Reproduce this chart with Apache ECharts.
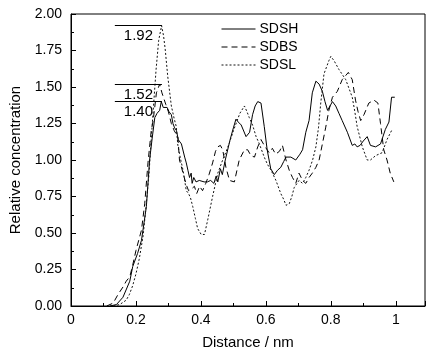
<!DOCTYPE html>
<html><head><meta charset="utf-8">
<script src="https://cdn.jsdelivr.net/npm/echarts@6/dist/echarts.min.js"></script>
<style>html,body{margin:0;padding:0;background:#fff}#c{width:435px;height:359px}</style>
</head><body><div id="c"></div>
<script>
// ---- data (distance in nm, relative concentration) ----
const sdshX=[0.12,0.14,0.16,0.181,0.19,0.205,0.217,0.232,0.242,0.25,0.258,0.265,0.273,0.278,0.284,0.29,0.296,0.302,0.309,0.314,0.319,0.325,0.33,0.34,0.35,0.355,0.36,0.365,0.37,0.373,0.378,0.385,0.395,0.40,0.41,0.42,0.43,0.44,0.447,0.452,0.46,0.466,0.475,0.49,0.50,0.508,0.515,0.524,0.539,0.55,0.559,0.567,0.575,0.585,0.595,0.604,0.615,0.626,0.636,0.646,0.655,0.662,0.677,0.692,0.705,0.713,0.723,0.733,0.743,0.754,0.764,0.774,0.782,0.79,0.805,0.815,0.825,0.835,0.851,0.866,0.874,0.881,0.89,0.90,0.912,0.922,0.938,0.953,0.968,0.979,0.987,0.997];
const sdshY=[0,0.01,0.06,0.17,0.27,0.36,0.45,0.68,1.00,1.15,1.29,1.32,1.34,1.40,1.36,1.37,1.36,1.33,1.31,1.25,1.22,1.20,1.14,1.11,1.02,0.98,0.93,0.88,0.91,0.84,0.88,0.85,0.86,0.87,0.85,0.85,0.86,0.84,0.89,0.85,0.94,0.90,1.00,1.14,1.22,1.28,1.26,1.24,1.16,1.19,1.31,1.37,1.40,1.39,1.23,1.07,0.94,0.90,0.93,0.95,0.99,1.02,1.02,1.00,1.04,1.07,1.19,1.27,1.46,1.54,1.52,1.47,1.40,1.34,1.40,1.37,1.32,1.27,1.19,1.10,1.11,1.09,1.10,1.13,1.16,1.10,1.09,1.11,1.21,1.26,1.43,1.43];

const sdbsX=[0.11,0.13,0.145,0.16,0.17,0.181,0.19,0.20,0.217,0.227,0.237,0.247,0.253,0.263,0.273,0.28,0.286,0.292,0.30,0.309,0.318,0.329,0.334,0.345,0.355,0.362,0.37,0.38,0.387,0.396,0.405,0.415,0.425,0.436,0.445,0.452,0.46,0.467,0.477,0.488,0.503,0.518,0.534,0.544,0.554,0.565,0.575,0.585,0.595,0.61,0.62,0.63,0.642,0.651,0.662,0.672,0.682,0.692,0.702,0.713,0.723,0.733,0.743,0.754,0.764,0.774,0.784,0.794,0.805,0.82,0.835,0.854,0.866,0.876,0.884,0.892,0.902,0.917,0.933,0.945,0.953,0.963,0.973,0.983,0.994];
const sdbsY=[0,0.02,0.08,0.13,0.17,0.20,0.28,0.38,0.52,0.70,0.98,1.20,1.27,1.46,1.52,1.46,1.42,1.38,1.33,1.25,1.20,1.16,1.00,0.91,0.83,0.79,0.80,0.82,0.77,0.82,0.79,0.84,0.90,0.98,1.06,1.09,1.10,1.07,0.95,0.86,0.85,1.00,1.07,1.07,1.03,1.02,1.09,1.14,1.10,1.05,1.08,1.04,1.06,1.10,1.00,0.93,0.88,0.84,0.91,0.86,0.84,0.88,0.91,0.95,1.00,1.11,1.22,1.34,1.43,1.47,1.55,1.60,1.55,1.41,1.33,1.27,1.31,1.39,1.41,1.39,1.25,1.07,1.00,0.91,0.85];

const sdslX=[0.13,0.15,0.17,0.18,0.19,0.20,0.21,0.222,0.232,0.24,0.247,0.255,0.262,0.27,0.279,0.285,0.29,0.298,0.309,0.318,0.324,0.329,0.338,0.345,0.355,0.362,0.368,0.375,0.383,0.39,0.401,0.411,0.421,0.436,0.452,0.467,0.478,0.488,0.50,0.51,0.52,0.534,0.542,0.549,0.559,0.57,0.58,0.595,0.605,0.616,0.631,0.646,0.655,0.662,0.672,0.68,0.687,0.702,0.713,0.723,0.733,0.744,0.754,0.762,0.769,0.779,0.794,0.80,0.81,0.825,0.846,0.866,0.874,0.881,0.897,0.912,0.922,0.938,0.958,0.973,0.989];
const sdslY=[0,0.01,0.04,0.08,0.14,0.22,0.32,0.48,0.70,0.90,1.14,1.40,1.62,1.82,1.92,1.85,1.76,1.57,1.37,1.28,1.23,1.10,1.00,0.93,0.79,0.77,0.74,0.68,0.60,0.53,0.49,0.49,0.59,0.75,0.91,1.00,1.06,1.12,1.20,1.26,1.32,1.37,1.33,1.29,1.24,1.16,1.11,1.02,0.97,0.93,0.86,0.77,0.73,0.69,0.70,0.75,0.81,0.86,0.84,0.88,0.93,1.00,1.09,1.22,1.39,1.59,1.68,1.71,1.68,1.62,1.55,1.43,1.33,1.23,1.09,1.00,1.00,1.03,1.05,1.14,1.21];

const seriesNames=['SDSH','SDBS','SDSL'];
const peakValues=[1.92,1.52,1.40];
const peakLineX=[0.135,0.28];
const xTickInterval=0.2, yTickInterval=0.25;

const pairs=(xs,ys)=>xs.map((x,i)=>[x,ys[i]]);
const FONT='"Liberation Sans", Arial, sans-serif';

const chart=echarts.init(document.getElementById('c'),null,{renderer:'canvas'});
chart.setOption({
  animation:false,
  backgroundColor:'#fff',
  grid:{left:71,right:10,top:14,bottom:53,show:true,borderColor:'#000',borderWidth:1,backgroundColor:'transparent'},
  legend:{
    orient:'vertical',left:216,top:17,itemWidth:34,itemHeight:12,itemGap:4,
    itemStyle:{opacity:0},
    lineStyle:{width:1},
    textStyle:{fontFamily:FONT,fontSize:14,color:'#000',padding:[0,0,0,-1]},
    data:seriesNames
  },
  xAxis:{
    type:'value',min:0,max:1.09,interval:xTickInterval,
    name:'Distance / nm',nameLocation:'middle',nameGap:29,
    nameTextStyle:{fontFamily:FONT,fontSize:15,color:'#000'},
    axisLine:{onZero:false,lineStyle:{color:'#000',width:1}},
    axisTick:{inside:true,length:5,lineStyle:{color:'#000'}},
    minorTick:{show:true,splitNumber:2,length:3,lineStyle:{color:'#000'}},
    axisLabel:{fontFamily:FONT,fontSize:14,color:'#000',margin:7,showMaxLabel:false},
    splitLine:{show:false}
  },
  yAxis:{
    type:'value',min:0,max:2,interval:yTickInterval,
    name:'Relative concentration',nameLocation:'middle',nameGap:46,
    nameTextStyle:{fontFamily:FONT,fontSize:15,color:'#000'},
    axisLine:{show:true,lineStyle:{color:'#000',width:1}},
    axisTick:{inside:true,length:5,lineStyle:{color:'#000'}},
    minorTick:{show:true,splitNumber:2,length:3,lineStyle:{color:'#000'}},
    axisLabel:{fontFamily:FONT,fontSize:14,color:'#000',margin:9,formatter:v=>v.toFixed(2)},
    splitLine:{show:false}
  },
  series:[
    {name:'SDSH',type:'line',data:pairs(sdshX,sdshY),symbol:'none',
     lineStyle:{color:'#000',width:1,type:'solid'},itemStyle:{color:'#000'},
     markLine:{silent:true,symbol:['none','none'],
       lineStyle:{color:'#000',width:1,type:'solid'},
       label:{position:'insideMiddleBottom',distance:3,fontFamily:FONT,fontSize:15,color:'#000',formatter:p=>p.data && p.data.v!==undefined ? p.data.v : ''},
       data:peakValues.map(v=>[{coord:[peakLineX[0],v],v:v.toFixed(2)},{coord:[peakLineX[1],v]}])
     }},
    {name:'SDBS',type:'line',data:pairs(sdbsX,sdbsY),symbol:'none',
     lineStyle:{color:'#000',width:1,type:[6,4]},itemStyle:{color:'#000'}},
    {name:'SDSL',type:'line',data:pairs(sdslX,sdslY),symbol:'none',
     lineStyle:{color:'#111',width:1,type:[2,2]},itemStyle:{color:'#111'}}
  ]
});
</script>
</body></html>
